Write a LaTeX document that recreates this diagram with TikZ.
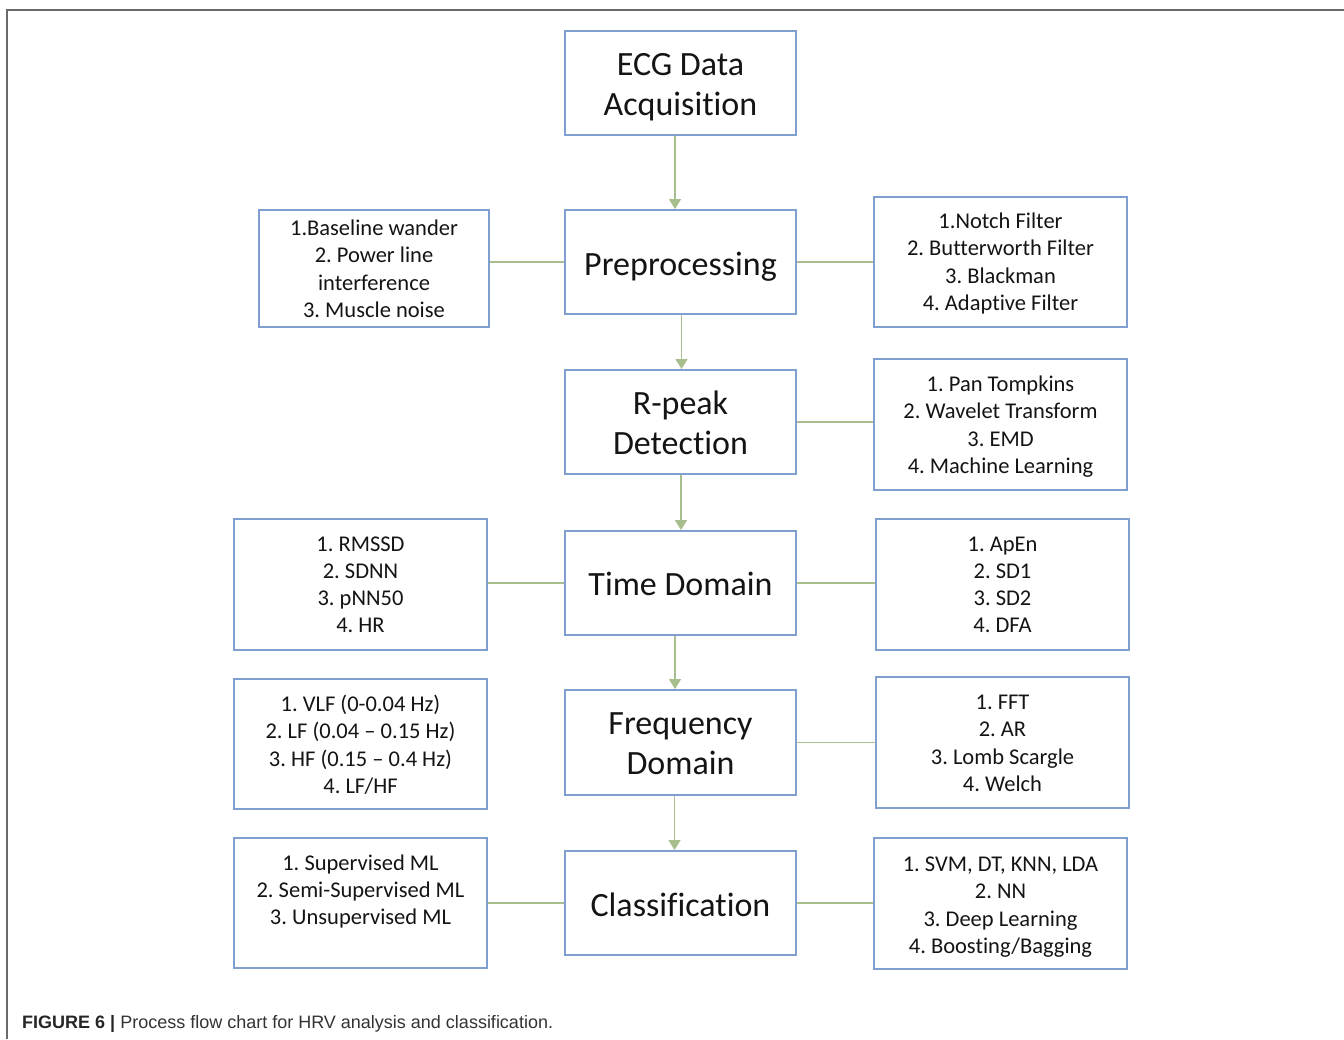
\documentclass[tikz,border=0pt]{standalone}
\usepackage{fontspec}
\setmainfont{Carlito}[Ligatures=NoCommon]
\newfontfamily\capfont{Liberation Sans}
\usetikzlibrary{arrows.meta}
\definecolor{boxline}{HTML}{7F9FD0}
\definecolor{linkline}{HTML}{A8BE8C}
\definecolor{frameline}{HTML}{6A6A6A}
\definecolor{captext}{HTML}{333333}
% centred lines of text, lowered inside an unchanged box
\newcommand\lowered[2]{\raisebox{-#1}[\height][\depth]{\begin{tabular}{@{}c@{}}#2\end{tabular}}}
\tikzset{
  mainbox/.style={draw=boxline, line width=2pt, inner sep=0pt,
    minimum width=231pt, minimum height=104pt, text=black!92,
    font=\fontsize{34pt}{40pt}\selectfont},
  sidebox/.style={draw=boxline, line width=2pt, inner sep=0pt,
    minimum width=253pt, minimum height=131pt, text=black!92,
    font=\fontsize{22.5pt}{27.2pt}\selectfont},
  flow/.style={draw=linkline, line width=1.6pt,
    -{Triangle[width=12pt,length=10pt]}},
  link/.style={draw=linkline, line width=1.6pt}
}
\begin{document}
\frenchspacing
\begin{tikzpicture}[x=1pt,y=-1pt]
  \useasboundingbox (0,0) rectangle (1344,1039);
  % outer frame (top and left rules)
  \draw[frameline, line width=2pt] (1344,10) -- (7,10) -- (7,1039);

  % main process column
  \node[mainbox] (ecg)  at (680.5,83)    {\lowered{4pt}{ECG Data\\Acquisition}};
  \node[mainbox] (pre)  at (680.5,262)   {\lowered{5.5pt}{Preprocessing}};
  \node[mainbox] (rpk)  at (680.5,422)   {\lowered{4.5pt}{R-peak\\Detection}};
  \node[mainbox] (time) at (680.5,583)   {\lowered{4.5pt}{Time Domain}};
  \node[mainbox, minimum height=105pt] (freq) at (680.5,742.5) {\lowered{4pt}{Frequency\\Domain}};
  \node[mainbox] (cls)  at (680.5,903)   {\lowered{5pt}{Classification}};

  % side boxes
  \node[sidebox, minimum width=230pt, minimum height=117pt] (lpre) at (374,268.5)
    {\lowered{2.5pt}{1.Baseline wander\\2. Power line\\interference\\3. Muscle noise}};
  \node[sidebox, minimum height=130pt] (rpre) at (1000.5,262)
    {\lowered{2pt}{1.Notch Filter\\2. Butterworth Filter\\3. Blackman\\4. Adaptive Filter}};
  \node[sidebox] (rrpk) at (1000.5,424.5)
    {\lowered{2.5pt}{1. Pan Tompkins\\2. Wavelet Transform\\3. EMD\\4. Machine Learning}};
  \node[sidebox] (ltime) at (360.5,584.5)
    {\lowered{2pt}{1. RMSSD\\2. SDNN\\3. pNN50\\4. HR}};
  \node[sidebox] (rtime) at (1002.5,584.5)
    {\lowered{2pt}{1. ApEn\\2. SD1\\3. SD2\\4. DFA}};
  \node[sidebox, minimum height=130pt] (lfreq) at (360.5,744)
    {\lowered{3pt}{1. VLF (0-0.04 Hz)\\2. LF (0.04 – 0.15 Hz)\\3. HF (0.15 – 0.4 Hz)\\4. LF/HF}};
  \node[sidebox] (rfreq) at (1002.5,742.5)
    {\lowered{2.5pt}{1. FFT\\2. AR\\3. Lomb Scargle\\4. Welch}};
  \node[sidebox, minimum height=130pt] (lcls) at (360.5,903)
    {\lowered{2.5pt}{1. Supervised ML\\2. Semi-Supervised ML\\3. Unsupervised ML\\\strut}};
  \node[sidebox] (rcls) at (1000.5,903.5)
    {\lowered{3.5pt}{1. SVM, DT, KNN, LDA\\2. NN\\3. Deep Learning\\4. Boosting/Bagging}};

  % flow arrows down the column
  \draw[flow] ([xshift=-5.5pt]ecg.south)  -- ([xshift=-5.5pt]pre.north);
  \draw[flow] ([xshift=1pt]pre.south)     -- ([xshift=1pt]rpk.north);
  \draw[flow] ([xshift=0.5pt]rpk.south)   -- ([xshift=0.5pt]time.north);
  \draw[flow] ([xshift=-5.5pt]time.south) -- ([xshift=-5.5pt]freq.north);
  \draw[flow] ([xshift=-6pt]freq.south)   -- ([xshift=-6pt]cls.north);

  % side links
  \draw[link] (pre.west)  -- (pre.west -| lpre.east);
  \draw[link] (pre.east)  -- (pre.east -| rpre.west);
  \draw[link] (rpk.east)  -- (rpk.east -| rrpk.west);
  \draw[link] (time.west) -- (time.west -| ltime.east);
  \draw[link] (time.east) -- (time.east -| rtime.west);
  \draw[link] (freq.east) -- (freq.east -| rfreq.west);
  \draw[link] (cls.west)  -- (cls.west -| lcls.east);
  \draw[link] (cls.east)  -- (cls.east -| rcls.west);

  % caption
  \node[anchor=west, inner sep=0pt, text=captext, font=\capfont\fontsize{18pt}{21pt}\selectfont] (cap) at (22,1024)
    {\textcolor{black!85}{\textbf{FIGURE 6 |}} Process flow chart for HRV analysis and classification.};
\end{tikzpicture}
\end{document}
